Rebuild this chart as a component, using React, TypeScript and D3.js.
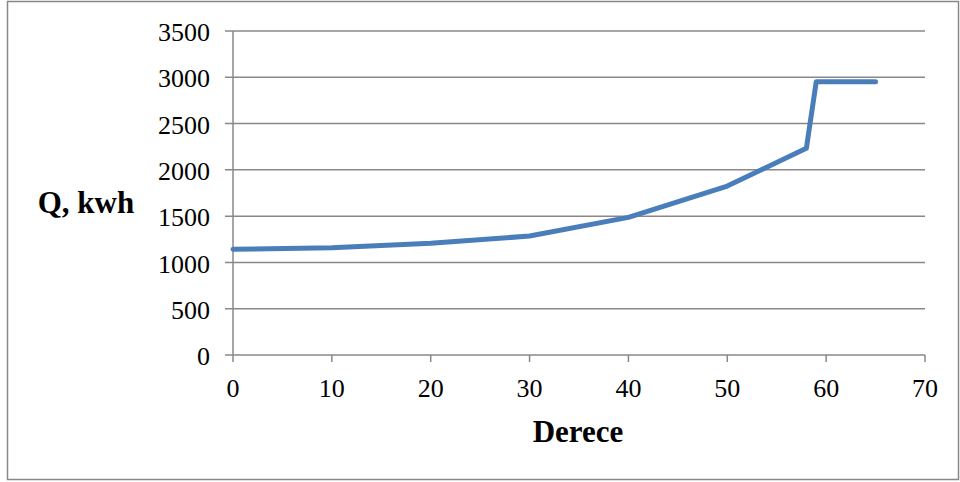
import React from "react";
import * as d3 from "d3";

const derece = [0, 10, 20, 30, 40, 50, 58, 59, 65];
const qValues = [1142, 1159, 1207, 1285, 1487, 1825, 2233, 2953, 2953];
const yTicks = [0, 500, 1000, 1500, 2000, 2500, 3000, 3500];
const xTicks = [0, 10, 20, 30, 40, 50, 60, 70];

export default function App() {
  const W = 960, H = 482;
  const x = d3.scaleLinear().domain([0, 70]).range([233, 925]);
  const y = d3.scaleLinear().domain([0, 3500]).range([355, 31]);
  const line = d3.line<number>().x((d, i) => x(derece[i])).y((d) => y(d));
  const font = "'Liberation Serif', 'Times New Roman', serif";
  return (
    <svg width={W} height={H} style={{ position: "absolute", left: 0, top: 0, background: "#fff" }}>
      <rect x={7.5} y={1.5} width={951} height={478} fill="#fff" stroke="#888" strokeWidth={1.5} />
      {yTicks.map((t) => (
        <g key={"y" + t}>
          <line x1={225} x2={925} y1={y(t)} y2={y(t)} stroke="#888" strokeWidth={1.5} />
          <text x={210} y={y(t) + 1} dy="0.35em" textAnchor="end" fontFamily={font} fontSize={26} fill="#000">{t}</text>
        </g>
      ))}
      <line x1={x(0)} x2={x(0)} y1={y(3500)} y2={y(0)} stroke="#888" strokeWidth={1.5} />
      {xTicks.map((t) => (
        <g key={"x" + t}>
          <line x1={x(t)} x2={x(t)} y1={y(0)} y2={y(0) + 7} stroke="#888" strokeWidth={1.5} />
          <text x={x(t)} y={388} dy="0.35em" textAnchor="middle" fontFamily={font} fontSize={26} fill="#000">{t}</text>
        </g>
      ))}
      <path d={line(qValues) || ""} fill="none" stroke="#4a7ebb" strokeWidth={5} strokeLinejoin="round" strokeLinecap="round" />
      <text x={86} y={202} dy="0.35em" textAnchor="middle" fontFamily={font} fontWeight="bold" fontSize={31} fill="#000">Q, kwh</text>
      <text x={578} y={431} dy="0.35em" textAnchor="middle" fontFamily={font} fontWeight="bold" fontSize={31} fill="#000">Derece</text>
    </svg>
  );
}
